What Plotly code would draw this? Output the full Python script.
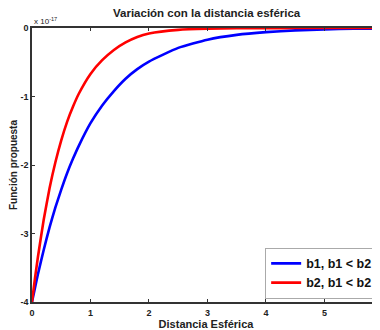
import plotly.graph_objects as go

# Data (function values in units of 1e-17)
x_vals = [0, 0.05, 0.1, 0.2, 0.3, 0.4, 0.5, 0.6, 0.7, 0.8, 1.0, 1.2, 1.4, 1.6, 1.8, 2.0,
          2.5, 3.0, 3.5, 4.0, 4.5, 5.0, 5.5, 6.0]
b1_vals = [-4.00, -3.80, -3.60, -3.24, -2.91, -2.62, -2.36, -2.12, -1.91, -1.72, -1.39, -1.13,
           -0.92, -0.74, -0.60, -0.49, -0.29, -0.17, -0.10, -0.06, -0.035, -0.02, -0.012, -0.007]
b2_vals = [-4.00, -3.66, -3.35, -2.80, -2.34, -1.96, -1.64, -1.37, -1.15, -0.96, -0.67, -0.47,
           -0.32, -0.21, -0.13, -0.08, -0.027, -0.010, -0.004, -0.002, -0.001, 0.0, 0.0, 0.0]
series_names = ["b1, b1 < b2", "b2, b1 < b2"]
series_colors = ["#0000ff", "#ff0000"]
x_ticks = [0, 1, 2, 3, 4, 5, 6]
y_ticks = [-4, -3, -2, -1, 0]

FONT = "Liberation Sans, Arial"

fig = go.Figure()
for name, vals, col in zip(series_names, [b1_vals, b2_vals], series_colors):
    fig.add_trace(go.Scatter(x=x_vals, y=vals, mode="lines", name="<b>" + name + "</b>",
                             line=dict(color=col, width=2.6, shape="spline", smoothing=0.5)))

axis_common = dict(showline=True, linecolor="#333333", linewidth=1.5, mirror="ticks",
                   ticks="inside", ticklen=3, tickcolor="#333333", showgrid=False,
                   zeroline=False, automargin=False,
                   tickfont=dict(family=FONT, size=9, color="#222"))

fig.update_xaxes(range=[0, 5.95], tickvals=x_ticks, ticktext=["<b>%d</b>" % t for t in x_ticks],
                 title=dict(text="<b>Distancia Esférica</b>", font=dict(size=11, color="#222",
                            family=FONT), standoff=2), ticklabelstandoff=1, **axis_common)
fig.update_yaxes(range=[-4, 0], tickvals=y_ticks, ticktext=["<b>%d</b>" % t for t in y_ticks],
                 title=dict(text="<b>Función propuesta</b>", font=dict(size=10, color="#222",
                            family=FONT), standoff=6), **axis_common)

fig.update_layout(
    width=372, height=322,
    margin=dict(l=24, r=0, t=20, b=28, autoexpand=False),
    paper_bgcolor="white", plot_bgcolor="white",
    title=dict(text="<b>Variación con la distancia esférica</b>", x=0.534, xanchor="center",
               y=0.984, yanchor="middle",
               font=dict(size=11.5, color="#222", family=FONT)),
    legend=dict(x=0.67, xanchor="left", y=0.012, yanchor="bottom", bgcolor="white",
                bordercolor="#aaaaaa", borderwidth=1,
                font=dict(size=12.5, color="#111", family=FONT),
                tracegroupgap=0),
    showlegend=True,
)
fig.add_annotation(text="x 10<sup>-17</sup>", xref="paper", yref="paper", x=0.0, y=1.0,
                   xanchor="left", yanchor="bottom", showarrow=False, yshift=0,
                   font=dict(size=8, color="#222", family=FONT))

fig.write_html("out.html")
